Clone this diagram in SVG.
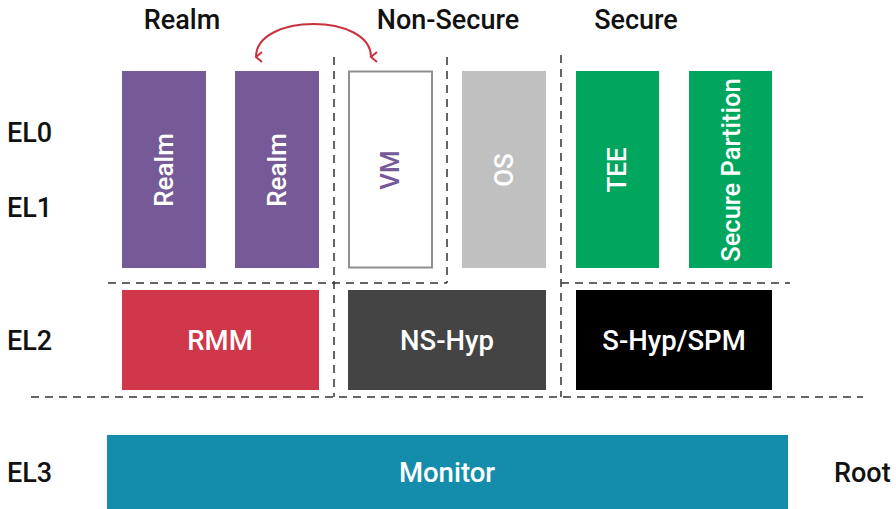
<svg xmlns="http://www.w3.org/2000/svg" width="896" height="509" viewBox="0 0 896 509">
<defs>
<style>
.hdr{font-family:Roboto,"Liberation Sans",sans-serif;font-size:27px;font-weight:500;fill:#111;text-anchor:middle}
.el{font-family:Roboto,"Liberation Sans",sans-serif;font-size:27px;font-weight:500;fill:#111}
.lbl{font-family:Roboto,"Liberation Sans",sans-serif;font-size:26px;font-weight:500;fill:#fff;text-anchor:middle;dominant-baseline:central}
.hl{font-size:27.5px}
.dash{stroke:#333;stroke-width:1.5;stroke-dasharray:8 6;fill:none}
</style>
<marker id="ah" viewBox="0 0 12 12" refX="6" refY="10" markerWidth="12" markerHeight="12" markerUnits="userSpaceOnUse" orient="auto-start-reverse">
<path d="M1 4 L6 10 L11 4" fill="none" stroke="#c8323f" stroke-width="2"/>
</marker>
</defs>
<rect width="896" height="509" fill="#fff"/>
<g id="headers">
<text class="hdr" x="182" y="29">Realm</text>
<text class="hdr" x="448" y="29">Non-Secure</text>
<text class="hdr" x="636" y="29">Secure</text>
</g>
<g id="levels">
<text class="el" x="7" y="142">EL0</text>
<text class="el" x="7" y="217">EL1</text>
<text class="el" x="7" y="350">EL2</text>
<text class="el" x="7" y="482">EL3</text>
<text class="el" x="834" y="482">Root</text>
</g>
<g id="realm1"><rect x="122" y="71" width="84" height="197" fill="#765a98"/><text class="lbl" transform="translate(164,170) rotate(-90)">Realm</text></g>
<g id="realm2"><rect x="235" y="71" width="84" height="197" fill="#765a98"/><text class="lbl" transform="translate(277,170) rotate(-90)">Realm</text></g>
<g id="vm"><rect x="349" y="71.5" width="83" height="196" fill="#fff" stroke="#8c918e" stroke-width="2"/><text class="lbl" style="fill:#765a98" transform="translate(390,170) rotate(-90)">VM</text></g>
<g id="os"><rect x="462" y="71" width="84" height="197" fill="#c0c0c0"/><text class="lbl" transform="translate(504,170) rotate(-90)">OS</text></g>
<g id="tee"><rect x="576" y="71" width="83" height="197" fill="#00a65d"/><text class="lbl" transform="translate(617,170) rotate(-90)">TEE</text></g>
<g id="sp"><rect x="689" y="71" width="83" height="197" fill="#00a65d"/><text class="lbl" style="font-size:25.5px" transform="translate(731,170) rotate(-90)">Secure Partition</text></g>
<g id="rmm"><rect x="122" y="290" width="197" height="100" fill="#d0374a"/><text class="lbl hl" x="220" y="340">RMM</text></g>
<g id="nshyp"><rect x="348" y="290" width="198" height="100" fill="#444444"/><text class="lbl hl" x="447" y="340">NS-Hyp</text></g>
<g id="shyp"><rect x="576" y="290" width="196" height="100" fill="#000"/><text class="lbl hl" x="674" y="340">S-Hyp/SPM</text></g>
<g id="monitor"><rect x="107" y="435" width="681" height="74" fill="#138dab"/><text class="lbl hl" x="447" y="472">Monitor</text></g>
<g id="connectors">
<path class="dash" d="M334 57 V397"/>
<path class="dash" d="M447 57 V283"/>
<path class="dash" d="M561 55 V397"/>
<path class="dash" d="M108 283 H447"/>
<path class="dash" d="M561 283 H790"/>
<path class="dash" d="M31 397 H863"/>
<path d="M256 57 C256 13 371 13 371 57" fill="none" stroke="#c8323f" stroke-width="2" marker-start="url(#ah)" marker-end="url(#ah)"/>
</g>
</svg>
